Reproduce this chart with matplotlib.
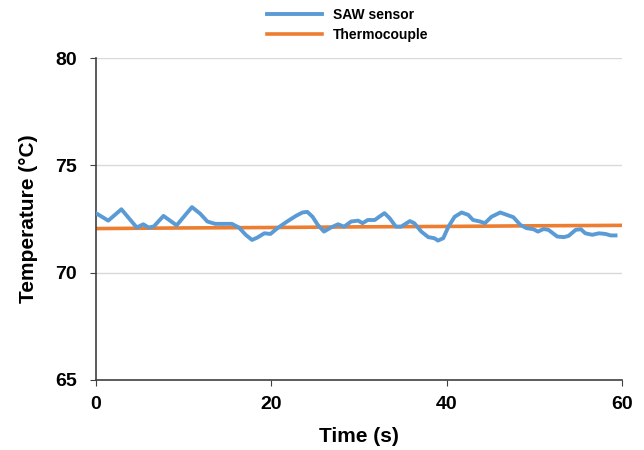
import matplotlib
matplotlib.use("Agg")
import matplotlib.pyplot as plt

plt.rcParams['font.family'] = ['Liberation Sans', 'DejaVu Sans']

# SAW sensor readings (time in s, temperature in degC)
saw_time = [0.0, 1.4, 2.9, 4.65, 5.4, 6.0, 6.6, 7.7, 9.2, 10.2, 10.95, 11.9, 12.7,
            13.6, 15.5, 16.3, 17.1, 17.8, 18.4, 19.2, 19.9, 20.7, 21.8, 22.8,
            23.55, 24.1, 24.7, 25.3, 26.0, 26.8, 27.6, 28.3, 29.1, 29.9, 30.4,
            31.0, 31.8, 32.3, 32.9, 33.5, 34.2, 34.8, 35.8, 36.3, 37.1, 37.9,
            38.6, 39.0, 39.6, 40.2, 40.9, 41.7, 42.45, 43.0, 43.8, 44.35, 45.1,
            46.1, 46.85, 47.6, 48.4, 49.1, 49.9, 50.4, 51.05, 51.6, 52.6, 53.35,
            53.9, 54.7, 55.3, 55.8, 56.6, 57.35, 58.1, 58.7, 59.25]
saw_temp = [72.77, 72.42, 72.95, 72.1, 72.25, 72.1, 72.15, 72.64, 72.2, 72.69,
            73.05, 72.74, 72.38, 72.27, 72.27, 72.1, 71.75, 71.52, 71.63, 71.83,
            71.8, 72.07, 72.38, 72.64, 72.8, 72.83, 72.6, 72.22, 71.91, 72.1,
            72.25, 72.14, 72.38, 72.42, 72.3, 72.45, 72.45, 72.6, 72.77, 72.53,
            72.14, 72.14, 72.4, 72.3, 71.91, 71.65, 71.6, 71.49, 71.6, 72.14,
            72.6, 72.8, 72.69, 72.45, 72.38, 72.3, 72.6, 72.8, 72.69, 72.58,
            72.22, 72.07, 72.02, 71.91, 72.03, 71.99, 71.68, 71.65, 71.71, 71.99,
            72.02, 71.83, 71.76, 71.83, 71.8, 71.73, 71.73]

# Thermocouple readings
tc_time = [0, 10, 20, 30, 40, 50, 59.8]
tc_temp = [72.05, 72.08, 72.1, 72.13, 72.15, 72.18, 72.2]

fig = plt.figure(figsize=(6.44, 4.5), dpi=100)
ax = fig.add_axes([0.149, 0.156, 0.817, 0.715])

ax.plot(saw_time, saw_temp, color='#5B9BD5', lw=2.8, label='SAW sensor', zorder=3)
ax.plot(tc_time, tc_temp, color='#ED7D31', lw=2.6, label='Thermocouple', zorder=2)

ax.set_xlim(0, 60)
ax.set_ylim(65, 80)
ax.set_xticks([0, 20, 40, 60])
ax.set_yticks([65, 70, 75, 80])
ax.grid(axis='y', color='#d9d9d9', lw=1)
ax.set_axisbelow(True)
for s in ['top', 'right']:
    ax.spines[s].set_visible(False)
for s in ['left', 'bottom']:
    ax.spines[s].set_color('#404040')
    ax.spines[s].set_linewidth(1.2)
ax.tick_params(direction='out', length=4, color='#404040', labelsize=14)
ax.tick_params(axis='x', pad=8)
ax.tick_params(axis='y', pad=10)
for lab in ax.get_xticklabels() + ax.get_yticklabels():
    lab.set_fontweight('bold')

ax.set_xlabel('Time (s)', fontsize=15, fontweight='bold', labelpad=10)
ax.set_ylabel('Temperature (°C)', fontsize=15, fontweight='bold', labelpad=12)

fig.legend(loc='upper center', bbox_to_anchor=(0.54, 1.01), frameon=False,
           handlelength=4.0, handletextpad=0.8, labelspacing=0.4,
           prop={'weight': 'bold', 'size': 10})

fig.savefig('out.png', dpi=100)
